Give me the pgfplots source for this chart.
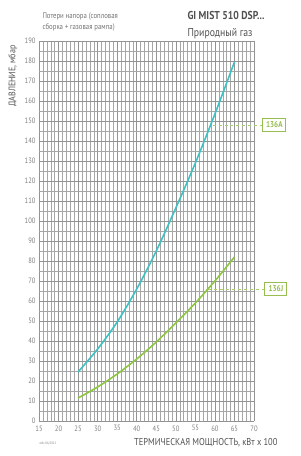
\documentclass[border=0pt]{standalone}
\usepackage{fontspec}
\setmainfont{PT Sans}[FakeStretch=0.85]
\usepackage{pgfplots}
\pgfplotsset{compat=1.18}
\definecolor{cyanc}{RGB}{62,193,195}
\definecolor{greenc}{RGB}{141,198,63}
\definecolor{dashg}{RGB}{170,205,110}
\definecolor{boxg}{RGB}{150,190,80}
\definecolor{txtg}{RGB}{80,80,80}
\begin{document}
\begin{tikzpicture}[x=1bp,y=1bp]
\path[use as bounding box] (0,0) rectangle (300,456);
\begin{axis}[
  at={(39bp,35bp)}, anchor=south west,
  scale only axis, width=215bp, height=380bp,
  xmin=15, xmax=70, ymin=0, ymax=190,
  xtick={15,20,...,70}, ytick={0,10,...,190},
  minor x tick num=4, minor y tick num=1,
  grid=both,
  major grid style={gray!85, line width=0.5pt},
  minor grid style={gray!70, line width=0.45pt},
  axis line style={draw=none},
  tick style={draw=none},
  tick label style={font=\fontsize{7.8}{8}\selectfont, text=gray},
  /pgf/number format/assume math mode=true,
  xticklabel style={yshift=-1bp},
  clip=false,
]
\addplot[cyanc, line width=1.6pt, smooth] coordinates {
 (25,24.5) (30,36) (35,49.5) (40,66) (45,85) (50,106.5) (55,129) (60,153.5) (65,179.5)};
\addplot[greenc, line width=1.6pt, smooth] coordinates {
 (25,11.5) (30,17) (35,23.5) (40,31) (45,39.5) (50,49) (55,59) (60,70) (65,82)};
\draw[dashg, dashed, line width=0.8pt] (axis cs:59.4,148) -- (axis cs:72.3,148);
\draw[dashg, dashed, line width=0.8pt] (axis cs:58.2,66) -- (axis cs:72.8,66);
\node[draw=boxg, line width=0.8pt, text=boxg, font=\fontsize{8.5}{9}\selectfont\bfseries, inner sep=1.5bp, minimum width=23bp, minimum height=12.5bp] at (axis cs:75.2,148) {136A};
\node[draw=boxg, line width=0.8pt, text=boxg, font=\fontsize{8.5}{9}\selectfont\bfseries, inner sep=1.5bp, minimum width=22bp, minimum height=12.5bp] at (axis cs:75.6,66) {136J};
\end{axis}
\node[anchor=west, text=gray!90!black, font=\fontsize{8}{11}\selectfont, align=left] at (39,434) {Потери напора (сопловая\\сборка + газовая рампа)};
\node[anchor=west, text=txtg, font=\fontsize{11.5}{12}\selectfont\bfseries] at (184,440) {GI MIST 510 DSP...};
\node[anchor=west, text=txtg, font=\fontsize{11.5}{12}\selectfont] at (184,422) {Природный газ};
\node[anchor=north, rotate=90, text=txtg, font=\fontsize{9.5}{10}\selectfont] at (5,380) {ДАВЛЕНИЕ, мбар};
\node[anchor=east, text=txtg, font=\fontsize{10}{11}\selectfont] at (281,13) {ТЕРМИЧЕСКАЯ МОЩНОСТЬ, кВт х 100};
\node[anchor=west, text=gray, font=\fontsize{3.5}{4}\selectfont] at (36,12) {edic.06/2012};
\end{tikzpicture}
\end{document}
